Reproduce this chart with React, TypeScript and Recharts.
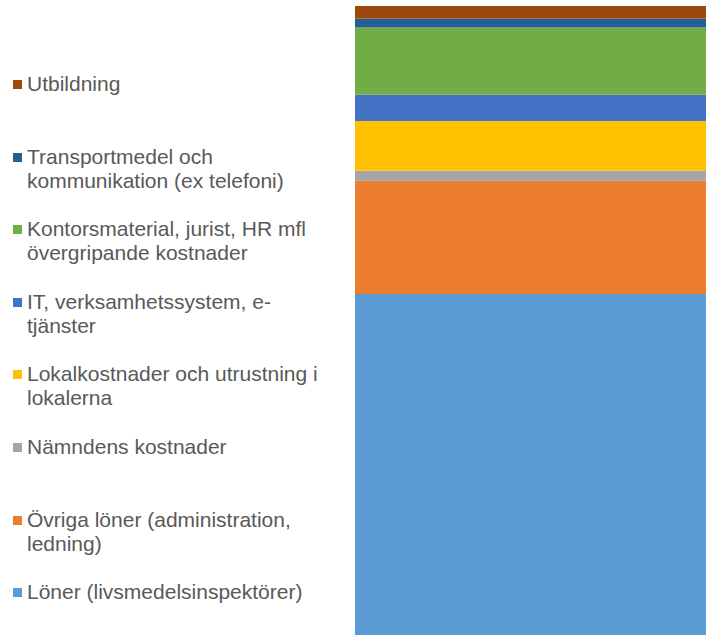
import { Bar, BarChart, Legend, XAxis, YAxis } from "recharts";

// stacking order: bottom first
const seriesNames = [
  "Löner (livsmedelsinspektörer)",
  "Övriga löner (administration, ledning)",
  "Nämndens kostnader",
  "Lokalkostnader och utrustning i lokalerna",
  "IT, verksamhetssystem, e-tjänster",
  "Kontorsmaterial, jurist, HR mfl övergripande kostnader",
  "Transportmedel och kommunikation (ex telefoni)",
  "Utbildning",
];
const seriesValues = [54.2, 18.0, 1.6, 7.9, 4.2, 10.7, 1.4, 2.0];
const seriesColors = ["#5B9BD5", "#ED7D31", "#A5A5A5", "#FFC000", "#4472C4", "#70AD47", "#255E91", "#9E480E"];
const categories = ["Kostnader"];

const keys = seriesNames.map((_, i) => `s${i}`);
const chartData = categories.map((c) => {
  const row: Record<string, string | number> = { name: c };
  keys.forEach((k, i) => (row[k] = seriesValues[i]));
  return row;
});
const total = seriesValues.reduce((a, b) => a + b, 0);

function LegendBox() {
  const order = seriesNames.map((_, i) => i).reverse();
  return (
    <div style={{ width: 355, height: 629, paddingTop: 66, boxSizing: "border-box" }}>
      {order.map((i) => (
        <div key={keys[i]} style={{ height: 72.6, display: "flex", alignItems: "flex-start" }}>
          <span
            style={{
              display: "inline-block",
              width: 9,
              height: 9,
              marginLeft: 12.5,
              marginTop: 8,
              marginRight: 5.5,
              flex: "none",
              background: seriesColors[i],
            }}
          />
          <span
            style={{
              width: 300,
              fontFamily: "'Liberation Sans', Arial, sans-serif",
              fontSize: 21,
              lineHeight: "24px",
              color: "#595959",
              textAlign: "left",
            }}
          >
            {seriesNames[i]}
          </span>
        </div>
      ))}
    </div>
  );
}

export default function App() {
  return (
    <div>
      <style>{"body{margin:0}"}</style>
      <BarChart
        width={706}
        height={635}
        data={chartData}
        margin={{ top: 6, right: 0, bottom: 0, left: 0 }}
        barCategoryGap={0}
      >
        <XAxis dataKey="name" hide />
        <YAxis hide domain={[0, total]} />
        <Legend layout="vertical" align="left" verticalAlign="top" content={() => <LegendBox />} />
        {keys.map((k, i) => (
          <Bar key={k} dataKey={k} stackId="a" fill={seriesColors[i]} isAnimationActive={false} />
        ))}
      </BarChart>
    </div>
  );
}
